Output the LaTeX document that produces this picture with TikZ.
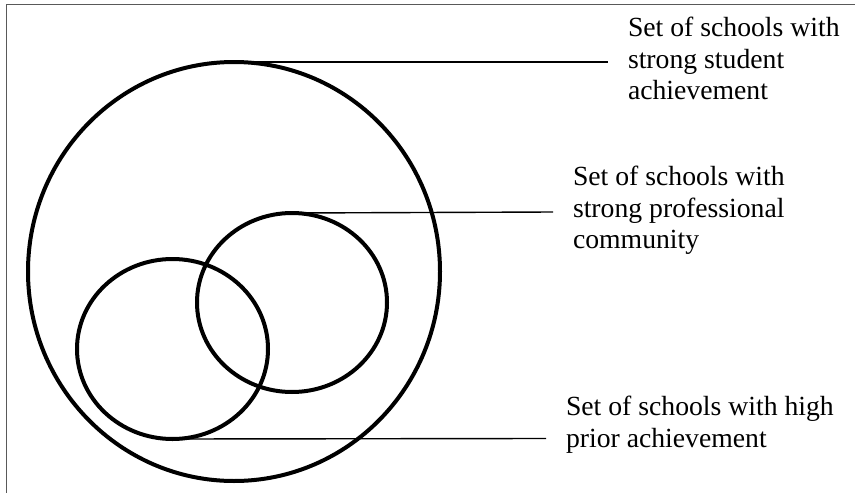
\documentclass[tikz,border=0pt]{standalone}
\usepackage{fontspec}
\setmainfont{Liberation Serif}
\usetikzlibrary{shapes.geometric}
\begin{document}
\begin{tikzpicture}[x=1pt,y=-1pt,
  setring/.style={draw=black, line width=4pt, ellipse, inner sep=0pt, outer sep=0pt},
  leader/.style={draw=black, line width=1.4pt},
  frameline/.style={draw=black!65, line width=1.5pt},
  lbl/.style={anchor=north west, inner sep=0pt, outer sep=0pt, align=left,
    font=\fontsize{27.7}{31.5}\selectfont}]
\useasboundingbox (0,0) rectangle (855,493);
% frame
\coordinate (fbl) at (6.5,493);
\coordinate (ftl) at (6.5,4.5);
\coordinate (ftr) at (855,4.5);
\draw[frameline] (fbl) -- (ftl) -- (ftr);
% sets
\node[setring, minimum width=412pt, minimum height=419pt] (big) at (234,271.5) {};
\node[setring, minimum width=190pt, minimum height=179pt] (prof) at (292,302.5) {};
\node[setring, minimum width=191pt, minimum height=180pt] (prior) at (172.5,349) {};
% labels
\node[lbl] (l1) at (628,17) {Set of schools with\\strong student\\achievement};
\node[lbl] (l2) at (573,166) {Set of schools with\\strong professional\\community};
\node[lbl] (l3) at (566,396) {Set of schools with high\\prior achievement};
% leader ends
\coordinate (e1) at (608,62);
\coordinate (e2) at (553,212);
\coordinate (e3) at (546,438.5);
\draw[leader] (big.north) -- (e1);
\draw[leader] (prof.north) -- (e2);
\draw[leader] (prior.south) -- (e3);
\end{tikzpicture}
\end{document}
